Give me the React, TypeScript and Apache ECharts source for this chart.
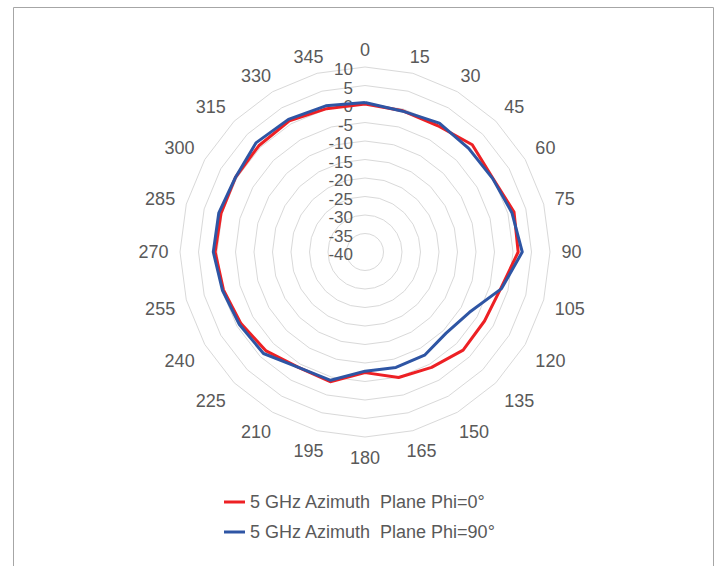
import React, { useEffect, useRef } from "react";
import * as echarts from "echarts";

const angles = [0, 15, 30, 45, 60, 75, 90, 105, 120, 135, 150, 165, 180, 195, 210, 225, 240, 255, 270, 285, 300, 315, 330, 345];
const phi0 = [0.0, -0.5, -0.6, 1.0, -0.1, 1.7, 1.4, -2.0, -2.7, -2.5, -4.0, -4.9, -7.4, -3.7, -4.0, -2.2, -1.3, -0.4, 0.5, 0.3, 0.4, 0.6, 0.9, 0.1];
const phi90 = [0.4, -0.6, 0.2, -0.4, -0.2, 1.1, 2.5, -1.8, -7.4, -9.0, -7.8, -7.7, -7.8, -4.1, -4.0, -1.2, -0.8, -0.1, 1.0, 0.9, 0.4, 1.7, 1.4, 0.9];
const seriesNames = ["5 GHz Azimuth  Plane Phi=0°", "5 GHz Azimuth  Plane Phi=90°"];
const rMin = -40;
const rMax = 10;

// ECharts radar lays indicators counter-clockwise; reorder for clockwise display
const order = [0, ...angles.map((_, i) => i).slice(1).reverse()];

export default function App() {
  const ref = useRef<HTMLDivElement>(null);
  useEffect(() => {
    const chart = echarts.init(ref.current!, null, { renderer: "svg" });
    const font = "'Liberation Sans', Arial, sans-serif";
    const nameFont = 18;
    const indicator = order.map((i, k) => {
      const label = String(angles[i]);
      const t = (angles[i] * Math.PI) / 180;
      const s = Math.sin(t);
      const c = Math.cos(t);
      const halfW = (label.length * nameFont * 0.556) / 2;
      // Excel-style placement: label box pushed outward from the ring
      const dx = Math.sign(s) * (halfW + 1.5) * Math.min(1, 1.4 * Math.abs(s));
      const dy = 2 - 9 * Math.sign(c) * Math.min(1, 2 * Math.abs(c));
      const e = Math.abs(c) >= 0.2 ? -dy / c : 0;
      const rem = dx - s * e;
      const ind: any = {
        name: label,
        min: rMin,
        max: rMax,
        nameGap: 10 + e,
        nameTextStyle: { padding: [0, Math.max(0, -2 * rem), 0, Math.max(0, 2 * rem)] },
      };
      if (k === 0) {
        ind.axisLabel = {
          show: true,
          color: "#595959",
          fontSize: 17,
          fontFamily: font,
          margin: 12,
          verticalAlign: "top",
          lineHeight: 5,
          showMinLabel: true,
          showMaxLabel: true,
        };
      }
      return ind;
    });
    chart.setOption({
      animation: false,
      backgroundColor: "#ffffff",
      radar: {
        center: [365, 252],
        radius: 185,
        shape: "polygon",
        splitNumber: 10,
        nameGap: 10,
        indicator,
        axisName: {
          color: "#595959",
          fontSize: nameFont,
          fontFamily: font,
          align: "center",
          verticalAlign: "middle",
        },
        axisLine: { show: false },
        axisTick: { show: false },
        axisLabel: { show: false },
        splitLine: { lineStyle: { color: "#d9d9d9", width: 1 } },
        splitArea: { show: false },
      },
      legend: {
        orient: "vertical",
        left: 224,
        top: 493,
        padding: 0,
        itemWidth: 21,
        itemHeight: 3,
        itemGap: 12,
        icon: "rect",
        textStyle: { color: "#595959", fontSize: 18, fontFamily: font },
        data: seriesNames,
      },
      graphic: [
        {
          type: "rect",
          shape: { x: 13.5, y: 7.5, width: 700, height: 600 },
          style: { fill: "none", stroke: "#a6a6a6", lineWidth: 1 },
          silent: true,
        },
      ],
      series: [
        {
          type: "radar",
          symbol: "none",
          data: [
            {
              name: seriesNames[0],
              value: order.map((i) => phi0[i]),
              lineStyle: { color: "#ED2024", width: 3 },
              itemStyle: { color: "#ED2024" },
            },
            {
              name: seriesNames[1],
              value: order.map((i) => phi90[i]),
              lineStyle: { color: "#2E55A4", width: 3 },
              itemStyle: { color: "#2E55A4" },
            },
          ],
        },
      ],
    });
    return () => chart.dispose();
  }, []);
  return (
    <div
      ref={ref}
      style={{ position: "fixed", left: 0, top: 0, width: 720, height: 566 }}
    />
  );
}
